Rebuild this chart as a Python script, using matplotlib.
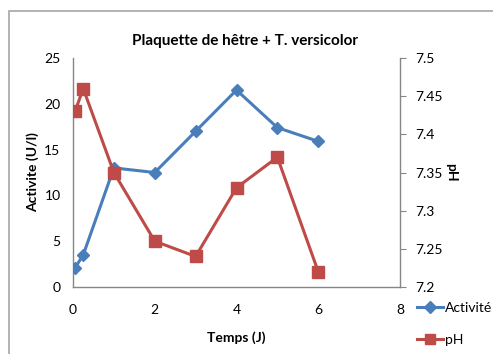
import matplotlib
matplotlib.use("Agg")
import matplotlib.pyplot as plt
from matplotlib.patches import Rectangle

plt.rcParams['font.family'] = ['Lato', 'DejaVu Sans']

temps = [0.05, 0.25, 1, 2, 3, 4, 5, 6]
activite = [2.1, 3.5, 13.0, 12.5, 17.0, 21.5, 17.4, 15.9]
ph = [7.43, 7.46, 7.35, 7.26, 7.24, 7.33, 7.37, 7.22]

blue = '#4A7EBB'
red = '#BE4B48'
axis_gray = '#868686'

fig = plt.figure(figsize=(4.93, 3.54), dpi=100)
fig.patches.append(Rectangle((9/493, -0.1), 1.2, 1 - 11/354 + 0.1, transform=fig.transFigure,
                             fill=False, edgecolor='#a6a6a6', linewidth=1.2))

ax = fig.add_axes([73/493, 1 - 287/354, (400 - 73)/493, (287 - 58)/354])
ax2 = ax.twinx()

l1, = ax.plot(temps, activite, color=blue, linewidth=2.2, marker='D', markersize=6.5,
              label='Activité', zorder=3)
l2, = ax2.plot(temps, ph, color=red, linewidth=2.2, marker='s', markersize=8.5,
               label='pH', zorder=3)

ax.set_xlim(0, 8)
ax.set_ylim(0, 25)
ax2.set_ylim(7.2, 7.5)
ax.set_xticks([0, 2, 4, 6, 8])
ax.set_yticks([0, 5, 10, 15, 20, 25])
ax2.set_yticks([7.2, 7.25, 7.3, 7.35, 7.4, 7.45, 7.5])
ax2.set_yticklabels(['7.2', '7.25', '7.3', '7.35', '7.4', '7.45', '7.5'])

for a in (ax, ax2):
    a.spines['top'].set_visible(False)
    for s in ('left', 'right', 'bottom'):
        a.spines[s].set_color(axis_gray)
        a.spines[s].set_linewidth(1.0)
ax.spines['right'].set_visible(False)
ax2.spines['left'].set_visible(False)
ax2.spines['bottom'].set_visible(False)

ax.tick_params(axis='x', length=0, labelsize=10, pad=12)
ax.tick_params(axis='y', length=0, labelsize=10, pad=9)
ax2.tick_params(axis='y', length=4, color=axis_gray, labelsize=10, pad=7)

ax.set_xlabel('Temps (J)', fontsize=10, fontweight='bold', labelpad=11)
ax.set_ylabel('Activite (U/l)', fontsize=10, fontweight='bold', labelpad=4)
ax2.set_ylabel('pH', fontsize=10, fontweight='bold', rotation=270, labelpad=10)
fig.text(245/493, 1 - 41/354, 'Plaquette de hêtre + T. versicolor', fontsize=11,
         fontweight='bold', ha='center', va='center')

fig.legend(handles=[l1, l2], loc='upper left', bbox_to_anchor=(410/493, 1 - 295/354),
           frameon=False, fontsize=10, handlelength=1.9, handletextpad=0.1,
           labelspacing=1.45, borderpad=0, markerscale=0.9)

fig.savefig('out.png', dpi=100)
